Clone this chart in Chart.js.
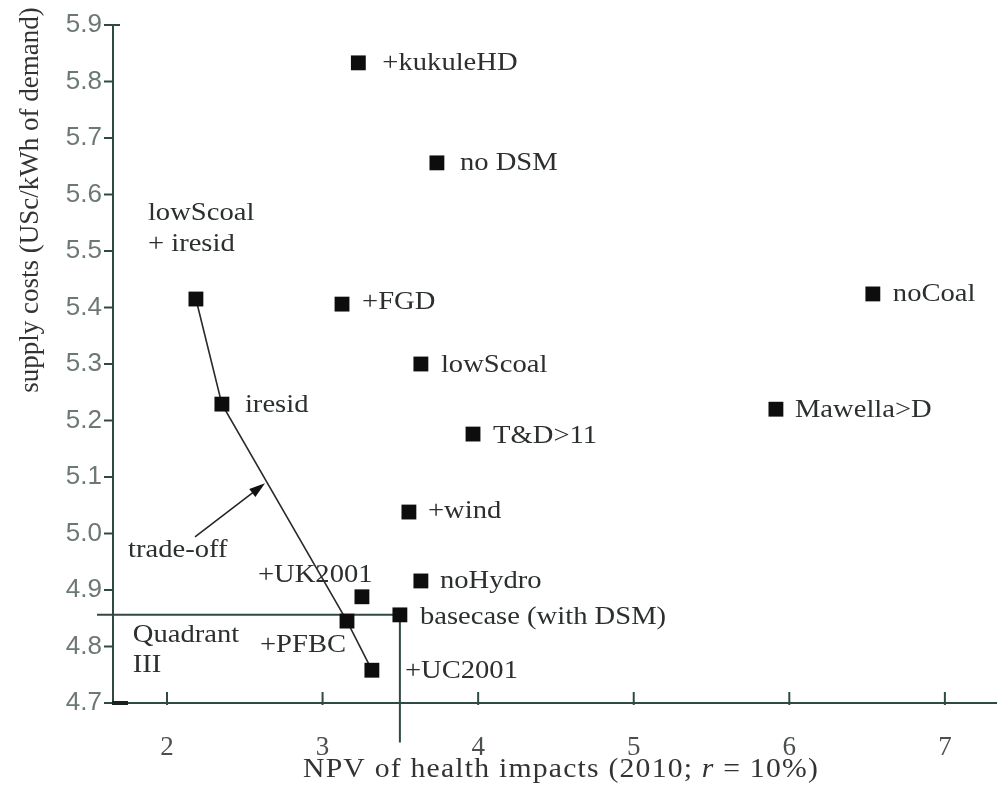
<!DOCTYPE html>
<html>
<head>
<meta charset="utf-8">
<script src="https://cdn.jsdelivr.net/npm/chart.js@4/dist/chart.umd.min.js"></script>
<style>
html,body{margin:0;padding:0;background:#fff;}
canvas{display:block;}
</style>
</head>
<body>
<canvas id="c" width="997" height="785"></canvas>
<script>
// ---- data ----
const scenarios = ["+kukuleHD","no DSM","lowScoal + iresid","+FGD","noCoal","lowScoal","iresid","Mawella>D","T&D>11","+wind","noHydro","+UK2001","basecase (with DSM)","+PFBC","+UC2001"];
const npvHealth = [3.23, 3.735, 2.186, 3.125, 6.537, 3.632, 2.353, 5.914, 3.967, 3.555, 3.632, 3.253, 3.497, 3.157, 3.317];
const supplyCost = [5.833, 5.656, 5.415, 5.406, 5.424, 5.300, 5.229, 5.220, 5.176, 5.038, 4.916, 4.888, 4.856, 4.845, 4.758];
const labelLines = [["+kukuleHD"],["no DSM"],["lowScoal","+ iresid"],["+FGD"],["noCoal"],["lowScoal"],["iresid"],["Mawella>D"],["T&D>11"],["+wind"],["noHydro"],["+UK2001"],["basecase (with DSM)"],["+PFBC"],["+UC2001"]];
const tradeOffPath = ["lowScoal + iresid","iresid","+PFBC","+UC2001"];
const xTicks = [2,3,4,5,6,7];
const xTickLabels = ["2","3","4","5","6","7"];
const yTicks = [4.7,4.8,4.9,5.0,5.1,5.2,5.3,5.4,5.5,5.6,5.7,5.8,5.9];
const yTickLabels = ["4.7","4.8","4.9","5.0","5.1","5.2","5.3","5.4","5.5","5.6","5.7","5.8","5.9"];
const baseIdx = scenarios.indexOf("basecase (with DSM)");
const quadrantLeftX = 1.55;
const quadrantBottomY = 4.63;
const arrowFrom = {x:2.18, y:4.994};
const arrowTo = {x:2.63, y:5.089};
const quadrantText = {x:1.78, y:4.82, lines:["Quadrant","III"]};
const tradeOffText = {x:1.75, y:4.97, text:"trade-off"};
const xTitle = ["NPV of health impacts (2010; ", "r", " = 10%)"];
const yTitle = "supply costs (USc/kWh of demand)";

// ---- label placement (pixel offsets from point) ----
const labelOffsets = [[24,0],[23,0],[-48,-55],[20,-2],[20,0],[20,1],[23,1],[19,1],[20,2],[19,-1],[19,0],[-104,-22],[20,2],[-87,24],[33,1]];
const LINE_GAP = 31;
const SX = 1.1;
const AXIS_COLOR = '#2f4a44';
const TEXT_COLOR = '#2b2f2e';
const SERIF = "'Liberation Serif', 'Times New Roman', serif";

function drawText(ctx, text, x, y, font, align, color, spacing) {
  ctx.save();
  ctx.font = font;
  ctx.fillStyle = color;
  ctx.textBaseline = 'middle';
  ctx.textAlign = 'left';
  ctx.letterSpacing = (spacing || 0) + 'px';
  const w = ctx.measureText(text).width * SX;
  let x0 = x;
  if (align === 'center') x0 = x - w / 2; else if (align === 'right') x0 = x - w;
  ctx.translate(x0, y);
  ctx.scale(SX, 1);
  ctx.fillText(text, 0, 0);
  ctx.restore();
  return w;
}
function textWidth(ctx, text, font, spacing) {
  ctx.save();
  ctx.font = font;
  ctx.letterSpacing = (spacing || 0) + 'px';
  const w = ctx.measureText(text).width * SX;
  ctx.restore();
  return w;
}

const decorations = {
  id: 'decorations',
  beforeDatasetsDraw(chart) {
    const ctx = chart.ctx, xs = chart.scales.x, ys = chart.scales.y, a = chart.chartArea;
    ctx.save();
    ctx.strokeStyle = AXIS_COLOR;
    ctx.lineWidth = 2;
    ctx.beginPath();
    ctx.moveTo(a.left, a.top); ctx.lineTo(a.left, a.bottom); ctx.lineTo(a.right, a.bottom);
    ctx.stroke();
    ctx.beginPath(); ctx.moveTo(a.left, a.top); ctx.lineTo(a.left + 7, a.top); ctx.stroke();
    yTicks.forEach(v => {
      const py = ys.getPixelForValue(v);
      ctx.beginPath(); ctx.moveTo(a.left - 9, py); ctx.lineTo(a.left, py); ctx.stroke();
    });
    xTicks.forEach(v => {
      const px = xs.getPixelForValue(v);
      ctx.beginPath(); ctx.moveTo(px, a.bottom - 11); ctx.lineTo(px, a.bottom + 2); ctx.stroke();
    });
    ctx.strokeStyle = '#17231f';
    ctx.lineWidth = 4;
    ctx.beginPath(); ctx.moveTo(a.left - 1, a.bottom); ctx.lineTo(a.left + 15, a.bottom); ctx.stroke();
    ctx.restore();
  },
  afterDatasetsDraw(chart) {
    const ctx = chart.ctx, xs = chart.scales.x, ys = chart.scales.y;
    const font = "26px " + SERIF;
    scenarios.forEach((s, i) => {
      const px = xs.getPixelForValue(npvHealth[i]), py = ys.getPixelForValue(supplyCost[i]);
      const [dx, dy] = labelOffsets[i];
      const n = labelLines[i].length;
      labelLines[i].forEach((ln, k) => {
        drawText(ctx, ln, px + dx, py + dy + (k - (n - 1)) * LINE_GAP, font, 'left', TEXT_COLOR, 0);
      });
    });
    const qx = xs.getPixelForValue(quadrantText.x), qy = ys.getPixelForValue(quadrantText.y);
    quadrantText.lines.forEach((ln, k) => drawText(ctx, ln, qx, qy + k * 30, font, 'left', TEXT_COLOR, 0));
    drawText(ctx, tradeOffText.text, xs.getPixelForValue(tradeOffText.x), ys.getPixelForValue(tradeOffText.y), font, 'left', TEXT_COLOR, 0);
    const x1 = xs.getPixelForValue(arrowFrom.x), y1 = ys.getPixelForValue(arrowFrom.y);
    const x2 = xs.getPixelForValue(arrowTo.x), y2 = ys.getPixelForValue(arrowTo.y);
    const ang = Math.atan2(y2 - y1, x2 - x1);
    ctx.save();
    ctx.strokeStyle = '#222'; ctx.fillStyle = '#111'; ctx.lineWidth = 1.5;
    ctx.beginPath(); ctx.moveTo(x1, y1); ctx.lineTo(x2 - 10 * Math.cos(ang), y2 - 10 * Math.sin(ang)); ctx.stroke();
    ctx.beginPath();
    ctx.moveTo(x2, y2);
    ctx.lineTo(x2 - 16 * Math.cos(ang) + 5 * Math.sin(ang), y2 - 16 * Math.sin(ang) - 5 * Math.cos(ang));
    ctx.lineTo(x2 - 16 * Math.cos(ang) - 5 * Math.sin(ang), y2 - 16 * Math.sin(ang) + 5 * Math.cos(ang));
    ctx.closePath(); ctx.fill();
    ctx.restore();
    const tf = "27px " + SERIF, tfi = "italic 27px " + SERIF, sp = 1.1;
    const widths = [textWidth(ctx, xTitle[0], tf, sp), textWidth(ctx, xTitle[1], tfi, sp), textWidth(ctx, xTitle[2], tf, sp)];
    const total = widths[0] + widths[1] + widths[2];
    let tx = 561 - total / 2;
    const ty = 770;
    drawText(ctx, xTitle[0], tx, ty, tf, 'left', '#333', sp); tx += widths[0];
    drawText(ctx, xTitle[1], tx, ty, tfi, 'left', '#333', sp); tx += widths[1];
    drawText(ctx, xTitle[2], tx, ty, tf, 'left', '#333', sp);
    ctx.save();
    ctx.translate(31, 200);
    ctx.rotate(-Math.PI / 2);
    ctx.font = tf; ctx.fillStyle = '#333'; ctx.textAlign = 'center'; ctx.textBaseline = 'middle';
    ctx.fillText(yTitle, 0, 0);
    ctx.restore();
  }
};

const pointData = npvHealth.map((x, i) => ({x, y: supplyCost[i]}));
const pathData = tradeOffPath.map(n => { const i = scenarios.indexOf(n); return {x: npvHealth[i], y: supplyCost[i]}; });
const quadData = [
  {x: quadrantLeftX, y: supplyCost[baseIdx]},
  {x: npvHealth[baseIdx], y: supplyCost[baseIdx]},
  {x: npvHealth[baseIdx], y: quadrantBottomY}
];

new Chart(document.getElementById('c'), {
  type: 'scatter',
  data: {
    datasets: [
      {label: 'scenarios', data: pointData, pointStyle: 'rect', pointRadius: 10.5, pointBackgroundColor: '#0d0d0d', pointBorderWidth: 0, showLine: false},
      {label: 'trade-off', data: pathData, showLine: true, pointRadius: 0, borderColor: '#2a2a2a', borderWidth: 1.6, clip: false},
      {label: 'quadrant', data: quadData, showLine: true, pointRadius: 0, borderColor: AXIS_COLOR, borderWidth: 2, clip: false}
    ]
  },
  options: {
    responsive: false,
    animation: false,
    events: [],
    layout: {autoPadding: false, padding: {top: 25, left: 0, right: 0, bottom: 0}},
    plugins: {legend: {display: false}, tooltip: {enabled: false}},
    scales: {
      x: {
        type: 'linear', min: 1.653, max: 7.335,
        afterBuildTicks: s => { s.ticks = xTicks.map(v => ({value: v})); },
        afterFit: s => { s.height = 82; s.paddingLeft = 0; s.paddingRight = 0; },
        ticks: {callback: (v, i) => xTickLabels[i], font: {family: SERIF, size: 27}, color: '#4b4f4e', padding: 21, maxRotation: 0},
        grid: {display: false},
        border: {display: false}
      },
      y: {
        type: 'linear', min: 4.7, max: 5.9,
        afterBuildTicks: s => { s.ticks = yTicks.map(v => ({value: v})); },
        afterFit: s => { s.width = 113; },
        ticks: {callback: (v, i) => yTickLabels[i], font: {family: "'Liberation Sans', Arial, sans-serif", size: 26}, color: '#6c7874', padding: 3},
        grid: {display: false},
        border: {display: false}
      }
    }
  },
  plugins: [decorations]
});
</script>
</body>
</html>
